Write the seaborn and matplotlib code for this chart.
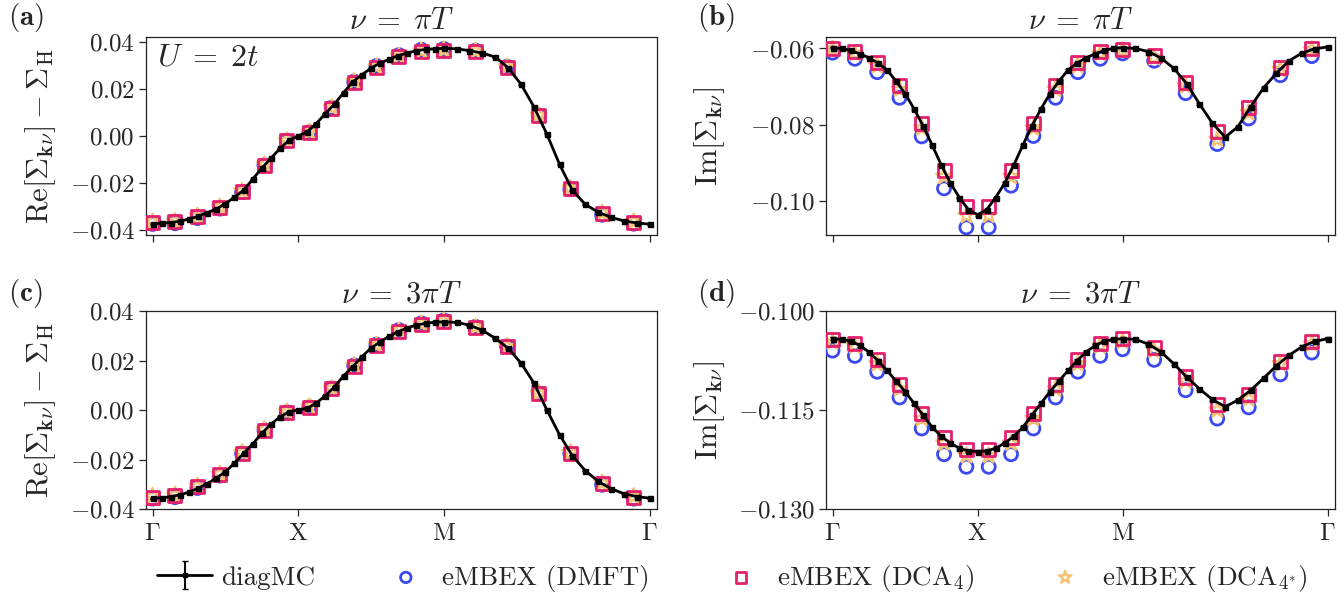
import numpy as np
import matplotlib
matplotlib.use("Agg")
import matplotlib.pyplot as plt
import matplotlib.ticker as mticker
import seaborn as sns

# ---------------- data ----------------
# k-path in units of pi: Gamma(0) -> X(1) -> M(2) -> Gamma(2+sqrt2)
path_ticks = [0.0, 1.0, 2.0, 2.0 + np.sqrt(2.0)]
path_labels = [r"$\Gamma$", r"$\mathrm{X}$", r"$\mathrm{M}$", r"$\Gamma$"]

# eMBEX k-points along the path
k_embex = [0.000, 0.154, 0.308, 0.462, 0.615, 0.769, 0.923,
           1.077, 1.231, 1.385, 1.538, 1.692, 1.846, 2.000,
           2.218, 2.435, 2.653, 2.870, 3.088, 3.305]

# diagMC k-points: uniform grid of pi/16 steps on every segment
seg = np.linspace(0.0, 1.0, 17)
k_diag = np.concatenate([seg, 1.0 + seg[1:], 2.0 + np.sqrt(2.0) * seg[1:]])

# ---- (a) Re, nu = pi T
diag_a = [-0.0372, -0.0370, -0.0367, -0.0362, -0.0352, -0.0341, -0.0325, -0.0310, -0.0287,
          -0.0260, -0.0230, -0.0184, -0.0136, -0.0095, -0.0053, -0.0018, 0.0000,
          0.0018, 0.0053, 0.0095, 0.0136, 0.0184, 0.0230, 0.0260, 0.0287,
          0.0310, 0.0325, 0.0341, 0.0352, 0.0362, 0.0367, 0.0370, 0.0372,
          0.0370, 0.0362, 0.0352, 0.0335, 0.0290, 0.0220, 0.0125, 0.0010,
          -0.0120, -0.0230, -0.0290, -0.0323, -0.0345, -0.0360, -0.0369, -0.0374]
dmft_a = [-0.0373, -0.0370, -0.0348, -0.0308, -0.0238, -0.0124, -0.0020, 0.0016, 0.0120, 0.0231,
          0.0297, 0.0343, 0.0366, 0.0369, 0.0362, 0.0294, 0.0087, -0.0226, -0.0334, -0.0372]
dca4_a = [-0.0366, -0.0364, -0.0342, -0.0304, -0.0237, -0.0124, -0.0021, 0.0015, 0.0118, 0.0228,
          0.0292, 0.0337, 0.0359, 0.0362, 0.0358, 0.0292, 0.0087, -0.0223, -0.0328, -0.0366]
dca4s_a = [-0.0364, -0.0362, -0.0340, -0.0301, -0.0234, -0.0121, -0.0019, 0.0017, 0.0121, 0.0231,
           0.0294, 0.0339, 0.0361, 0.0365, 0.0360, 0.0294, 0.0088, -0.0221, -0.0326, -0.0364]

# ---- (b) Im, nu = pi T
diag_b = [-0.0598, -0.0600, -0.0605, -0.0614, -0.0624, -0.0638, -0.0656, -0.0685, -0.0718,
          -0.0758, -0.0803, -0.0853, -0.0905, -0.0952, -0.0990, -0.1022, -0.1035,
          -0.1022, -0.0990, -0.0952, -0.0905, -0.0853, -0.0803, -0.0758, -0.0718,
          -0.0685, -0.0656, -0.0638, -0.0624, -0.0614, -0.0605, -0.0600, -0.0598,
          -0.0600, -0.0608, -0.0625, -0.0652, -0.0692, -0.0745, -0.0795, -0.0832,
          -0.0805, -0.0752, -0.0703, -0.0665, -0.0632, -0.0612, -0.0601, -0.0596]
dmft_b = [-0.0611, -0.0627, -0.0662, -0.0729, -0.0830, -0.0966, -0.1068, -0.1068, -0.0959, -0.0829,
          -0.0729, -0.0662, -0.0627, -0.0613, -0.0632, -0.0717, -0.0850, -0.0783, -0.0670, -0.0620]
dca4_b = [-0.0600, -0.0609, -0.0637, -0.0697, -0.0796, -0.0920, -0.1013, -0.1013, -0.0920, -0.0796,
          -0.0697, -0.0637, -0.0609, -0.0603, -0.0618, -0.0690, -0.0816, -0.0754, -0.0650, -0.0600]
dca4s_b = [-0.0602, -0.0613, -0.0645, -0.0707, -0.0808, -0.0935, -0.1037, -0.1037, -0.0935, -0.0808,
           -0.0707, -0.0645, -0.0613, -0.0605, -0.0624, -0.0698, -0.0838, -0.0768, -0.0655, -0.0603]

# ---- (c) Re, nu = 3 pi T
diag_c = [-0.0356, -0.0355, -0.0350, -0.0343, -0.0332, -0.0316, -0.0298, -0.0275, -0.0250,
          -0.0215, -0.0175, -0.0138, -0.0094, -0.0058, -0.0028, -0.0007, 0.0000,
          0.0007, 0.0028, 0.0058, 0.0094, 0.0138, 0.0175, 0.0215, 0.0250,
          0.0275, 0.0298, 0.0316, 0.0332, 0.0343, 0.0350, 0.0355, 0.0356,
          0.0354, 0.0343, 0.0322, 0.0290, 0.0250, 0.0190, 0.0110, 0.0002,
          -0.0100, -0.0185, -0.0245, -0.0288, -0.0318, -0.0338, -0.0350, -0.0356]
dmft_c = [-0.0358, -0.0352, -0.0315, -0.0265, -0.0176, -0.0082, -0.0009, 0.0011, 0.0087, 0.0180,
          0.0264, 0.0323, 0.0350, 0.0362, 0.0336, 0.0257, 0.0067, -0.0176, -0.0302, -0.0358]
dca4_c = [-0.0352, -0.0346, -0.0311, -0.0262, -0.0174, -0.0081, -0.0009, 0.0011, 0.0085, 0.0177,
          0.0260, 0.0319, 0.0346, 0.0358, 0.0333, 0.0255, 0.0067, -0.0174, -0.0298, -0.0352]
dca4s_c = [-0.0348, -0.0343, -0.0308, -0.0259, -0.0172, -0.0079, -0.0007, 0.0013, 0.0087, 0.0180,
           0.0262, 0.0321, 0.0348, 0.0360, 0.0335, 0.0257, 0.0068, -0.0172, -0.0295, -0.0349]

# ---- (d) Im, nu = 3 pi T
diag_d = [-0.1042, -0.1043, -0.1046, -0.1052, -0.1062, -0.1075, -0.1090, -0.1106, -0.1122,
          -0.1140, -0.1158, -0.1176, -0.1190, -0.1200, -0.1208, -0.1212, -0.1213,
          -0.1212, -0.1208, -0.1200, -0.1190, -0.1176, -0.1158, -0.1140, -0.1122,
          -0.1106, -0.1090, -0.1075, -0.1062, -0.1052, -0.1046, -0.1043, -0.1042,
          -0.1043, -0.1050, -0.1062, -0.1080, -0.1100, -0.1118, -0.1134, -0.1145,
          -0.1135, -0.1120, -0.1102, -0.1083, -0.1067, -0.1054, -0.1046, -0.1042]
dmft_d = [-0.1060, -0.1068, -0.1092, -0.1131, -0.1178, -0.1217, -0.1236, -0.1236, -0.1217, -0.1178,
          -0.1131, -0.1092, -0.1068, -0.1058, -0.1074, -0.1120, -0.1163, -0.1146, -0.1096, -0.1063]
dca4_d = [-0.1043, -0.1049, -0.1074, -0.1112, -0.1155, -0.1191, -0.1210, -0.1210, -0.1191, -0.1155,
          -0.1112, -0.1074, -0.1049, -0.1041, -0.1056, -0.1100, -0.1141, -0.1126, -0.1076, -0.1046]
dca4s_d = [-0.1047, -0.1053, -0.1080, -0.1118, -0.1163, -0.1200, -0.1219, -0.1219, -0.1200, -0.1163,
           -0.1118, -0.1080, -0.1053, -0.1046, -0.1060, -0.1106, -0.1150, -0.1133, -0.1080, -0.1050]

diag_err = 0.0002

series_labels = ["diagMC", "eMBEX (DMFT)", r"eMBEX (DCA$_4$)", r"eMBEX (DCA$_{4^{*}}$)"]
panel_tags = ["(a)", "(b)", "(c)", "(d)"]
titles = [r"$\nu\;=\;\pi T$", r"$\nu\;=\;\pi T$", r"$\nu\;=\;3\pi T$", r"$\nu\;=\;3\pi T$"]
ylabels = [r"$\mathrm{Re}[\Sigma_{\mathbf{k}\nu}]-\Sigma_{\mathrm{H}}$", r"$\mathrm{Im}[\Sigma_{\mathbf{k}\nu}]$",
           r"$\mathrm{Re}[\Sigma_{\mathbf{k}\nu}]-\Sigma_{\mathrm{H}}$", r"$\mathrm{Im}[\Sigma_{\mathbf{k}\nu}]$"]
yticks = [[-0.04, -0.02, 0.0, 0.02, 0.04], [-0.10, -0.08, -0.06],
          [-0.04, -0.02, 0.0, 0.02, 0.04], [-0.130, -0.115, -0.100]]
ytickfmt = ["%.2f", "%.2f", "%.2f", "%.3f"]
ylims = [(-0.042, 0.042), (-0.1088, -0.0570), (-0.040, 0.040), (-0.130, -0.100)]

panels = [(diag_a, dmft_a, dca4_a, dca4s_a), (diag_b, dmft_b, dca4_b, dca4s_b),
          (diag_c, dmft_c, dca4_c, dca4s_c), (diag_d, dmft_d, dca4_d, dca4s_d)]

# ---------------- style ----------------
sns.set_style("ticks")
plt.rcParams.update({
    "font.family": ["cmr10", "DejaVu Serif"],
    "mathtext.fontset": "cm",
    "axes.formatter.use_mathtext": True,
    "axes.unicode_minus": True,
    "xtick.direction": "out",
    "ytick.direction": "out",
    "axes.linewidth": 0.9,
    "axes.edgecolor": "#222222",
})

c_dmft = "#3a49f0"
c_dca4 = "#e3206c"
c_dca4s = "#f4c274"

fig = plt.figure(figsize=(13.44, 5.99), dpi=100)
W, H = 1344.0, 599.0
rects = [(146, 37, 657, 235), (826, 37, 1335, 235), (146, 311, 657, 509), (826, 311, 1335, 509)]
axes = []
for (x0, y0, x1, y1) in rects:
    axes.append(fig.add_axes([x0 / W, 1 - y1 / H, (x1 - x0) / W, (y1 - y0) / H]))


def make_fmt(f):
    return mticker.FuncFormatter(lambda v, p: r"$%s$" % (f % v))


for i, ax in enumerate(axes):
    diag, dmft, dca4, dca4s = panels[i]
    sns.scatterplot(x=k_embex, y=dmft, ax=ax, marker="o", s=88, facecolor="none",
                    edgecolor=c_dmft, linewidth=2.0, zorder=3, label=series_labels[1])
    sns.scatterplot(x=k_embex, y=dca4s, ax=ax, marker="*", s=140, facecolor="none",
                    edgecolor=c_dca4s, linewidth=1.7, zorder=3.5, label=series_labels[3])
    sns.scatterplot(x=k_embex, y=dca4, ax=ax, marker="s", s=88, facecolor="none",
                    edgecolor=c_dca4, linewidth=2.0, zorder=4, label=series_labels[2])
    ax.errorbar(k_diag, diag, yerr=diag_err, fmt="-s", color="black", lw=2.0, ms=3.6,
                capsize=2.5, elinewidth=1.5, zorder=5, label=series_labels[0])

    ax.set_xlim(-0.045, 3.465)
    ax.set_ylim(*ylims[i])
    ax.set_xticks(path_ticks)
    ax.set_xticklabels(path_labels)
    if i < 2:
        ax.tick_params(axis="x", labelbottom=False)
    ax.set_yticks(yticks[i])
    ax.yaxis.set_major_formatter(make_fmt(ytickfmt[i]))
    ax.tick_params(axis="both", labelsize=18, length=5, width=0.9, pad=3)
    ax.tick_params(axis="x", pad=5)
    ax.set_title(titles[i], fontsize=22, pad=6)
    ax.set_ylabel(ylabels[i], fontsize=22)
    if i % 2 == 0:
        ax.yaxis.set_label_coords(-0.172, 0.5)
    else:
        ax.yaxis.set_label_coords(-0.195, 0.5)
    if ax.legend_ is not None:
        ax.legend_.remove()

axes[0].text(0.022, 0.965, r"$U\;=\;2t$", transform=axes[0].transAxes, fontsize=23,
             ha="left", va="top")

tag_pos = [(8, 18), (697, 18), (8, 293), (697, 293)]
for tag, (tx, ty) in zip(panel_tags, tag_pos):
    fig.text(tx / W, 1 - ty / H, r"$\mathbf{" + tag + "}$", fontsize=21, ha="left", va="center")

handles, labels = axes[0].get_legend_handles_labels()
order = [labels.index(l) for l in series_labels]
fig.legend([handles[j] for j in order], [labels[j] for j in order],
           loc="center", bbox_to_anchor=(0.545, 1 - 578 / H), ncol=4, frameon=False,
           fontsize=19.5, handlelength=2.0, handletextpad=0.35, columnspacing=2.35,
           markerscale=0.8)

fig.savefig("out.png", dpi=100)
